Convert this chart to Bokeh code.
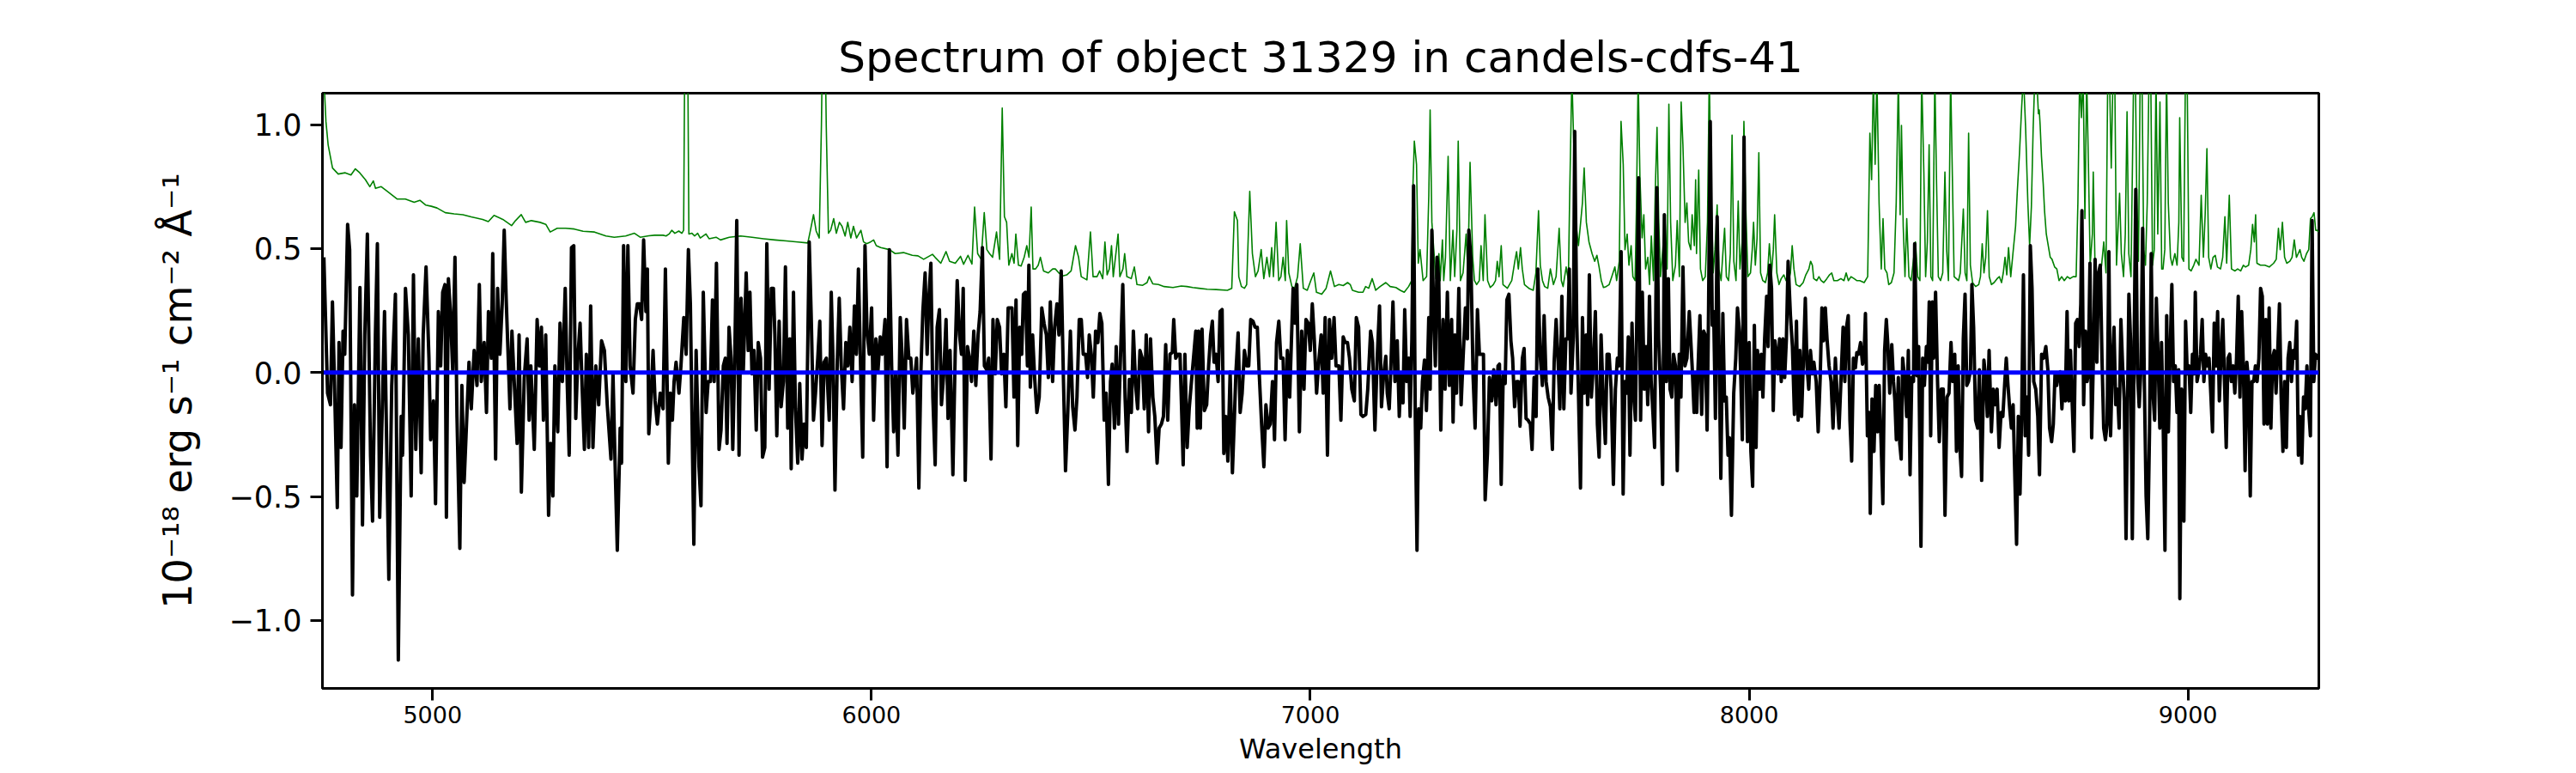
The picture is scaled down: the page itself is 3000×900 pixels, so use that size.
from bokeh.plotting import figure
from bokeh.models import Range1d, FixedTicker
from bokeh.embed import file_html
from bokeh.resources import INLINE

TITLE = "Spectrum of object 31329 in candels-cdfs-41"
X_LABEL = "Wavelength"
Y_LABEL = "10⁻¹⁸ erg s⁻¹ cm⁻² Å⁻¹"
X_TICKS = [5000, 6000, 7000, 8000, 9000]
X_TICK_LABELS = ["5000", "6000", "7000", "8000", "9000"]
Y_TICKS = [-1.0, -0.5, 0.0, 0.5, 1.0]
Y_TICK_LABELS = ["\u22121.0", "\u22120.5", "0.0", "0.5", "1.0"]
X_RANGE = (4749, 9298)
Y_RANGE = (-1.274, 1.127)

wl_1 = [4752.3, 4760.7, 4767.3, 4771.8, 4776.4, 4782.9, 4786.8, 4791.4, 4796.0, 4799.9, 4806.4, 4811.0, 4817.5, 4822.1, 4827.3, 4834.5, 4840.3, 4845.5, 4851.4, 4858.6, 4863.2, 4869.7, 4874.2, 4879.5, 4886.0, 4890.5, 4900.3, 4906.9, 4915.3, 4921.9, 4928.4, 4931.6, 4938.2, 4944.7, 4951.2, 4956.4, 4961.7, 4967.5, 4974.0, 4978.6, 4985.1, 4991.7, 4995.6, 5002.1, 5006.7, 5013.2, 5018.4, 5023.0, 5028.2, 5031.5, 5036.0, 5040.6, 5045.8, 5051.0, 5055.6, 5062.1, 5066.7, 5071.9, 5078.4, 5083.0, 5088.2, 5094.7, 5101.2, 5106.5, 5111.0, 5117.5, 5122.8, 5127.3, 5133.9, 5137.1, 5143.6, 5148.2, 5153.4, 5158.6, 5163.2, 5167.8, 5176.3, 5180.8, 5186.0, 5192.6, 5197.1, 5202.3, 5208.9, 5215.4, 5220.0, 5223.9, 5231.7, 5238.2, 5243.4, 5248.0, 5252.6, 5257.8, 5264.3, 5268.9, 5274.1, 5278.7, 5285.2, 5290.4, 5295.6, 5302.2, 5306.7, 5311.3, 5316.5, 5321.7, 5326.3, 5330.9, 5336.1, 5340.6, 5345.9, 5350.4, 5355.6, 5360.2, 5365.4, 5371.9, 5378.5, 5385.0, 5391.5, 5398.0, 5406.5, 5411.1, 5415.6, 5420.9, 5427.4, 5430.6, 5435.2, 5440.4, 5445.0, 5450.2, 5456.7, 5462.0, 5466.5, 5471.7, 5476.3, 5480.9, 5486.1, 5489.4, 5492.6, 5497.8, 5502.4, 5507.0, 5512.2, 5518.7, 5525.2, 5530.5]
flux_1 = [0.465, -0.083, -0.130, 0.285, -0.036, -0.545, 0.121, -0.302, 0.167, 0.074, 0.598, 0.496, -0.897, -0.130, -0.498, 0.343, -0.615, 0.152, 0.559, -0.333, -0.599, 0.152, 0.520, -0.584, -0.099, 0.246, -0.834, -0.052, 0.316, -1.160, -0.177, -0.333, 0.340, 0.152, -0.498, 0.394, -0.310, 0.136, -0.404, 0.152, 0.426, 0.058, -0.271, -0.114, -0.529, 0.246, 0.027, 0.324, 0.355, -0.584, 0.379, 0.246, 0.011, 0.465, -0.177, -0.709, -0.052, -0.443, -0.161, 0.042, -0.146, 0.089, -0.052, 0.355, -0.036, 0.121, -0.161, 0.246, 0.058, 0.480, -0.349, 0.340, 0.074, 0.277, 0.574, 0.293, -0.146, 0.167, -0.036, -0.286, 0.152, -0.482, -0.020, 0.136, -0.192, 0.027, -0.310, 0.214, 0.027, 0.183, -0.192, 0.152, -0.576, -0.286, -0.498, 0.027, -0.239, 0.199, -0.036, 0.340, -0.036, -0.333, 0.504, 0.512, -0.185, 0.058, 0.199, -0.052, -0.310, 0.074, -0.302, 0.269, -0.302, 0.027, -0.130, 0.128, 0.089, -0.130, -0.349, -0.005, -0.349, -0.717, -0.224, -0.365, 0.512, -0.036, 0.512, 0.027, -0.083, 0.214, 0.277, 0.277, 0.214, 0.535, 0.246, 0.418, -0.247, -0.099, 0.089, -0.114, -0.208, -0.083, -0.146, 0.418]

wl_2 = [5537.2, 5541.8, 5546.4, 5550.3, 5554.8, 5561.4, 5565.9, 5572.4, 5577.7, 5582.9, 5587.4, 5595.3, 5600.5, 5607.0, 5611.6, 5616.8, 5623.3, 5627.9, 5633.1, 5637.7, 5641.6, 5646.8, 5652.7, 5657.2, 5662.5, 5667.0, 5670.9, 5675.5, 5680.1, 5684.0, 5688.6, 5693.1, 5698.3, 5702.9, 5708.1, 5714.6, 5719.2, 5723.1, 5727.7, 5732.3, 5737.5, 5742.0, 5747.3, 5751.8, 5757.0, 5761.6, 5766.8, 5772.0, 5776.6, 5779.9, 5784.4, 5789.7, 5794.2, 5799.4, 5804.0, 5809.2, 5813.8, 5817.1, 5822.3, 5826.8, 5832.1, 5836.6, 5841.8, 5846.4, 5851.6, 5858.2, 5862.7, 5867.9, 5872.5, 5877.7, 5882.3, 5887.5, 5892.1, 5897.3, 5903.8, 5908.4, 5912.3, 5916.9, 5922.1, 5926.6, 5931.2, 5936.4, 5941.6, 5946.2, 5950.8, 5956.0, 5961.2, 5965.8, 5970.3, 5975.6, 5980.1, 5985.3, 5989.9, 5995.1, 6000.4, 6004.9, 6010.1, 6014.7, 6019.9, 6024.5, 6031.0, 6035.6, 6040.8, 6046.0, 6050.6, 6055.1, 6060.4, 6065.6, 6070.1, 6074.7, 6079.9, 6085.2, 6089.7, 6094.3, 6099.5, 6102.8, 6108.0, 6112.5, 6117.1, 6122.3, 6126.9, 6130.8, 6135.4, 6139.9, 6145.2, 6149.7, 6154.9, 6159.5, 6164.7, 6170.0, 6174.5, 6179.1, 6185.6, 6190.8, 6195.4, 6200.6, 6205.2, 6209.1, 6213.7, 6218.9, 6223.4, 6228.0, 6233.2, 6237.8, 6243.0, 6247.6, 6252.8, 6257.4, 6262.6, 6267.1, 6272.4, 6276.9, 6282.1, 6286.7, 6291.9, 6296.5, 6301.7, 6306.3, 6311.5]
flux_2 = [-0.365, -0.083, -0.192, -0.036, 0.042, -0.083, 0.027, 0.222, 0.074, 0.496, 0.277, -0.693, 0.089, -0.380, -0.537, 0.324, -0.161, -0.036, -0.036, 0.293, -0.036, 0.441, -0.310, -0.232, 0.027, 0.058, -0.286, 0.183, 0.058, -0.310, 0.058, 0.613, -0.333, 0.300, 0.011, 0.402, 0.089, 0.324, -0.005, 0.089, -0.232, 0.121, 0.058, -0.341, -0.302, 0.520, -0.067, 0.340, 0.340, 0.152, -0.255, 0.207, -0.138, -0.036, 0.426, -0.224, 0.136, -0.388, 0.324, -0.146, -0.365, -0.044, -0.349, -0.208, -0.302, 0.527, 0.230, -0.192, -0.083, 0.058, 0.207, -0.294, 0.042, 0.058, -0.192, 0.324, 0.058, -0.474, 0.042, 0.300, 0.027, -0.146, 0.121, 0.027, 0.183, -0.036, 0.269, 0.074, 0.418, -0.005, -0.341, 0.512, 0.167, 0.074, 0.261, -0.192, 0.136, 0.003, 0.144, 0.074, 0.214, -0.380, 0.496, 0.027, -0.239, -0.005, -0.333, 0.222, 0.058, -0.224, 0.214, 0.058, 0.058, -0.083, -0.005, 0.058, -0.466, -0.005, 0.246, 0.402, 0.074, 0.300, 0.441, -0.099, -0.372, 0.183, 0.254, -0.130, -0.005, 0.214, -0.185, 0.089, -0.412, 0.074, 0.371, 0.152, 0.074, 0.340, -0.435, 0.105, 0.058, -0.036, 0.167, -0.052, 0.152, 0.246, 0.504, 0.027, 0.011, 0.058, -0.349, 0.214, -0.005, 0.214, 0.183, -0.005, 0.074, -0.138, 0.261]

wl_3 = [6320.2, 6324.8, 6329.4, 6333.3, 6337.8, 6342.4, 6346.3, 6350.9, 6355.4, 6358.7, 6362.0, 6367.2, 6371.8, 6377.0, 6382.2, 6388.1, 6393.3, 6398.5, 6403.1, 6407.6, 6412.8, 6417.4, 6422.6, 6427.2, 6432.4, 6437.6, 6442.2, 6447.4, 6453.3, 6458.5, 6463.7, 6468.3, 6473.5, 6478.1, 6482.6, 6487.9, 6492.4, 6496.3, 6500.9, 6505.5, 6510.7, 6515.9, 6520.5, 6525.0, 6530.3, 6534.8, 6540.0, 6544.6, 6548.5, 6553.7, 6557.7, 6562.9, 6567.4, 6572.7, 6577.9, 6582.4, 6587.7, 6592.2, 6596.8, 6602.0, 6606.6, 6611.8, 6617.0, 6621.6, 6626.1, 6631.4, 6635.9, 6641.2, 6645.7, 6650.9, 6655.5, 6660.7, 6665.3, 6670.5, 6675.1, 6680.3, 6685.5, 6688.8, 6693.3, 6697.9, 6703.1, 6706.4, 6710.3, 6714.2, 6719.4, 6724.0, 6729.2, 6733.8, 6739.0, 6742.3, 6745.5, 6749.4, 6753.3, 6758.6, 6763.8, 6768.3, 6772.9, 6776.8, 6780.7, 6785.3, 6789.9, 6794.4, 6799.0, 6802.9, 6807.5, 6812.1, 6817.3, 6822.5, 6827.1, 6830.3, 6835.5, 6840.1, 6844.7, 6849.9, 6855.1, 6859.7, 6864.2, 6869.5, 6874.0, 6879.2, 6883.8, 6889.0, 6894.2, 6898.8, 6904.0, 6908.6, 6913.8, 6918.4, 6923.0, 6928.2, 6932.7, 6938.0, 6942.5, 6947.7, 6953.0, 6957.5, 6960.8, 6965.3, 6969.3, 6975.1, 6980.3, 6985.6, 6990.1, 6995.3, 6999.9, 7004.5, 7009.0, 7014.3, 7019.5, 7024.7, 7029.3, 7033.8, 7039.1, 7043.6, 7048.8, 7054.1, 7058.6, 7065.1, 7069.7, 7074.9, 7079.5, 7084.7, 7089.3, 7094.5]
flux_3 = [0.261, -0.099, 0.293, -0.294, 0.183, 0.074, 0.316, 0.324, 0.027, 0.433, -0.059, 0.152, -0.020, -0.161, -0.099, 0.261, 0.199, 0.152, -0.020, 0.285, -0.036, 0.183, 0.277, 0.152, 0.410, -0.036, -0.396, -0.161, 0.167, -0.138, -0.232, -0.099, 0.214, 0.214, 0.074, 0.074, -0.020, 0.152, 0.074, -0.099, 0.167, 0.121, 0.238, 0.199, -0.192, -0.083, -0.451, -0.036, 0.034, -0.224, 0.105, -0.208, 0.058, 0.355, -0.099, -0.318, -0.028, -0.161, 0.167, -0.052, -0.146, 0.089, 0.058, -0.146, 0.152, -0.239, 0.136, -0.099, -0.177, -0.365, -0.224, -0.208, -0.177, 0.113, -0.192, 0.074, 0.081, 0.214, 0.058, 0.074, 0.074, -0.130, -0.372, 0.074, -0.302, -0.146, -0.036, 0.058, 0.167, -0.224, 0.167, -0.224, 0.175, -0.153, -0.130, 0.027, 0.152, 0.207, 0.042, 0.074, -0.036, 0.246, 0.254, -0.326, -0.177, -0.357, 0.003, -0.404, -0.177, -0.005, 0.160, -0.161, -0.083, 0.089, 0.027, 0.027, 0.214, 0.207, 0.183, 0.183, -0.013, -0.208, -0.380, -0.130, -0.224, -0.208, -0.036, -0.271, 0.121, 0.207, 0.058, 0.058, -0.271, 0.089, -0.099, 0.160, 0.340, 0.199, 0.355, -0.239, 0.167, -0.067, 0.214, 0.199, 0.089, 0.277, 0.136, -0.083, 0.050, 0.152, -0.083, 0.222, -0.333, 0.214, 0.058, 0.222, 0.027, 0.027, -0.192, 0.144, 0.121, 0.121, 0.058, -0.067]

wl_4 = [7100.3, 7104.8, 7110.0, 7115.3, 7119.8, 7126.4, 7130.9, 7137.4, 7141.4, 7147.2, 7152.4, 7157.7, 7162.2, 7166.8, 7172.0, 7175.3, 7179.8, 7183.8, 7188.3, 7192.9, 7198.1, 7202.7, 7206.6, 7211.2, 7215.1, 7219.6, 7224.2, 7227.5, 7231.4, 7235.3, 7239.2, 7243.1, 7247.0, 7251.6, 7255.5, 7260.1, 7264.6, 7269.9, 7273.1, 7277.0, 7281.0, 7284.9, 7288.8, 7292.7, 7297.3, 7302.5, 7307.0, 7312.3, 7316.8, 7322.0, 7325.3, 7329.2, 7333.1, 7338.4, 7343.6, 7348.1, 7353.4, 7357.9, 7361.2, 7365.7, 7371.0, 7375.5, 7380.8, 7385.3, 7390.5, 7394.5, 7398.4, 7403.6, 7408.1, 7413.4, 7417.9, 7423.2, 7427.7, 7431.0, 7434.9, 7439.5, 7444.0, 7447.9, 7452.5, 7457.1, 7461.0, 7465.5, 7470.1, 7474.0, 7477.9, 7483.2, 7487.1, 7491.6, 7496.2, 7501.4, 7505.3, 7509.9, 7514.5, 7518.4, 7523.6, 7528.8, 7532.7, 7537.3, 7541.9, 7547.1, 7551.6, 7555.6, 7560.1, 7564.7, 7568.6, 7573.2, 7577.7, 7582.3, 7586.2, 7590.1, 7594.0, 7599.3, 7602.5, 7607.1, 7611.0, 7615.6, 7620.1, 7624.1, 7628.6, 7631.9, 7635.8, 7640.4, 7644.9, 7649.5, 7654.1, 7658.0, 7662.5, 7667.8, 7672.3, 7676.2, 7680.8, 7685.4, 7690.6, 7695.2, 7699.7, 7703.6, 7708.2, 7712.8, 7716.7, 7720.6, 7724.5, 7728.4, 7733.0, 7736.9, 7740.8, 7744.7, 7748.0, 7752.6, 7756.5, 7761.0, 7765.0, 7768.9, 7772.8, 7776.7, 7780.6, 7784.5, 7789.7, 7793.7, 7798.2, 7802.8, 7806.7, 7811.3, 7815.8, 7819.7, 7823.7, 7827.6, 7832.1, 7836.1, 7840.6, 7844.5, 7849.1, 7853.7, 7858.2, 7863.5, 7870.0, 7874.5, 7878.5]
flux_4 = [-0.114, 0.222, 0.183, -0.169, -0.177, -0.169, -0.067, 0.167, 0.121, -0.232, 0.058, 0.269, -0.138, -0.013, 0.066, -0.083, -0.146, 0.034, 0.285, -0.036, 0.128, -0.177, -0.005, -0.122, 0.254, -0.036, 0.058, -0.177, 0.136, 0.754, -0.185, -0.717, -0.146, -0.224, -0.036, 0.050, -0.153, 0.222, -0.067, 0.574, 0.246, 0.027, 0.465, 0.371, -0.232, 0.214, -0.067, 0.324, -0.052, 0.214, -0.200, 0.152, -0.083, 0.340, -0.130, 0.058, 0.261, 0.136, 0.574, 0.465, -0.020, -0.224, 0.254, 0.074, 0.074, 0.074, -0.513, -0.326, -0.020, -0.114, 0.011, -0.130, 0.027, 0.034, -0.451, -0.013, -0.044, 0.293, 0.316, 0.128, 0.058, -0.138, -0.036, -0.036, -0.216, 0.058, 0.097, -0.185, -0.192, -0.208, -0.310, -0.020, -0.177, 0.418, 0.074, -0.052, 0.230, -0.036, -0.099, -0.138, -0.310, 0.042, 0.214, 0.042, -0.146, 0.308, -0.146, 0.136, 0.136, 0.418, -0.083, 0.144, 0.973, 0.199, -0.083, -0.466, 0.222, -0.083, 0.152, -0.130, 0.394, -0.099, 0.027, 0.246, -0.208, -0.341, 0.152, -0.130, -0.286, 0.074, 0.074, -0.067, -0.451, -0.067, 0.058, 0.027, 0.488, -0.490, -0.036, -0.083, 0.144, -0.333, 0.199, -0.083, -0.192, 0.324, 0.786, -0.192, 0.324, -0.067, 0.105, -0.130, 0.308, -0.036, -0.161, -0.302, 0.746, 0.136, -0.067, -0.451, 0.637, -0.036, 0.379, -0.067, -0.099, 0.074, 0.027, -0.396, 0.074, -0.099, 0.426, 0.027, 0.058, 0.246, 0.027, -0.161, -0.005]

wl_5 = [7880.5, 7883.3, 7887.8, 7891.7, 7896.3, 7899.6, 7904.1, 7907.4, 7911.3, 7915.9, 7919.1, 7923.1, 7927.0, 7930.9, 7935.4, 7940.0, 7943.9, 7947.8, 7951.8, 7955.0, 7959.6, 7964.8, 7969.4, 7973.3, 7977.8, 7981.1, 7984.4, 7988.3, 7992.2, 7996.1, 8000.0, 8003.9, 8007.9, 8011.8, 8015.7, 8018.9, 8023.5, 8027.4, 8031.3, 8035.2, 8039.8, 8043.1, 8047.0, 8050.9, 8054.8, 8058.7, 8062.6, 8065.9, 8069.2, 8073.1, 8077.0, 8080.9, 8084.8, 8088.7, 8094.0, 8098.5, 8103.1, 8107.7, 8111.6, 8115.5, 8119.4, 8124.0, 8127.9, 8131.8, 8135.7, 8139.6, 8144.2, 8147.4, 8152.7, 8157.2, 8161.8, 8165.7, 8169.6, 8173.5, 8177.4, 8182.0, 8186.6, 8191.1, 8196.4, 8200.9, 8204.8, 8209.4, 8214.0, 8217.9, 8221.8, 8225.7, 8229.6, 8233.5, 8237.5, 8242.0, 8245.3, 8249.2, 8253.8, 8258.3, 8261.6, 8264.9, 8269.4, 8273.3, 8275.9, 8279.9, 8284.4, 8288.3, 8292.3, 8296.2, 8300.7, 8304.6, 8308.6, 8312.5, 8315.7, 8320.3, 8324.9, 8328.8, 8332.0, 8335.3, 8339.9, 8343.1, 8346.4, 8349.7, 8354.9, 8358.8, 8362.7, 8366.6, 8370.5, 8374.4, 8377.1, 8382.3, 8386.2, 8391.4, 8395.3, 8399.2, 8403.8, 8407.1, 8410.3, 8413.6, 8417.5, 8420.1, 8424.7, 8429.2, 8433.2, 8437.7, 8442.3, 8446.2, 8450.8, 8455.3, 8459.9, 8463.8, 8468.4, 8472.3, 8476.2, 8480.1, 8484.0, 8487.9, 8491.9, 8495.8, 8499.7, 8504.3, 8507.5, 8511.4, 8516.0, 8520.6, 8524.5, 8529.7, 8534.9, 8538.8, 8542.7, 8546.7, 8551.9, 8556.4, 8560.3, 8564.9, 8569.5, 8574.0, 8578.0, 8582.5, 8585.8, 8589.7, 8593.6, 8597.5, 8601.4, 8605.4, 8609.3, 8613.2, 8617.1, 8621.0, 8624.9, 8628.9, 8633.4, 8636.7, 8640.6, 8644.5, 8648.4, 8653.0, 8657.6, 8661.5]
flux_5 = [-0.161, 0.011, 0.230, -0.169, 0.167, 0.152, -0.232, 0.246, 1.013, 0.191, 0.246, -0.185, 0.629, 0.152, -0.427, 0.238, -0.114, -0.099, -0.333, -0.263, -0.576, -0.083, 0.058, 0.261, 0.167, -0.036, -0.271, 0.950, 0.105, -0.279, 0.121, -0.318, -0.459, 0.191, -0.302, 0.089, -0.067, 0.074, -0.099, 0.136, 0.308, 0.105, 0.433, 0.340, -0.153, 0.128, 0.074, -0.005, 0.136, -0.036, 0.136, -0.020, 0.136, 0.449, 0.230, 0.105, -0.169, 0.207, -0.192, 0.089, -0.177, 0.074, 0.300, 0.027, -0.067, 0.089, -0.005, 0.042, -0.036, -0.239, -0.020, 0.261, 0.128, 0.261, 0.136, 0.027, -0.036, -0.224, 0.058, -0.114, -0.224, -0.020, 0.183, -0.036, 0.183, 0.230, -0.192, -0.357, 0.058, 0.019, 0.081, 0.074, 0.121, 0.034, 0.058, 0.238, -0.255, -0.161, -0.568, -0.106, -0.318, -0.052, -0.239, -0.052, -0.286, -0.529, 0.089, 0.214, 0.121, -0.083, 0.113, -0.036, -0.114, -0.271, -0.020, -0.286, -0.349, 0.058, -0.036, -0.177, 0.089, -0.412, -0.020, -0.036, 0.520, -0.013, 0.105, -0.701, 0.058, -0.052, 0.105, 0.042, 0.285, -0.255, 0.285, 0.058, 0.324, -0.036, -0.279, -0.067, -0.067, -0.576, -0.099, -0.083, 0.121, -0.036, 0.074, -0.318, 0.027, -0.302, -0.419, 0.136, 0.316, -0.052, -0.036, 0.011, 0.355, 0.183, -0.192, -0.224, 0.011, -0.435, 0.050, -0.020, -0.177, 0.089, -0.239, -0.067, -0.130, -0.067, -0.302, -0.161, -0.177, -0.036, 0.058, -0.052, -0.146, -0.224, -0.130, -0.427, -0.693, -0.177, -0.490, -0.161, 0.394, -0.255, -0.099, -0.333, 0.512, 0.340, -0.036, -0.067, -0.177, -0.412]

wl_6 = [8666.3, 8670.8, 8676.0, 8680.6, 8684.5, 8689.1, 8693.0, 8696.9, 8700.8, 8704.7, 8708.7, 8712.6, 8716.5, 8720.4, 8724.3, 8728.2, 8732.1, 8736.1, 8740.0, 8743.9, 8747.8, 8751.7, 8755.6, 8758.2, 8762.1, 8766.1, 8770.0, 8772.6, 8776.5, 8780.4, 8784.3, 8788.2, 8792.2, 8796.1, 8800.0, 8803.9, 8807.8, 8811.7, 8815.6, 8819.6, 8823.5, 8827.4, 8831.3, 8835.2, 8839.1, 8843.0, 8847.0, 8850.9, 8854.8, 8858.7, 8862.6, 8865.2, 8869.1, 8873.0, 8877.0, 8880.9, 8884.8, 8888.7, 8892.6, 8896.5, 8900.4, 8904.4, 8908.3, 8912.2, 8916.1, 8920.0, 8923.9, 8927.8, 8931.8, 8935.7, 8939.6, 8943.5, 8947.4, 8951.3, 8955.2, 8959.1, 8963.1, 8967.0, 8970.9, 8974.8, 8978.7, 8981.3, 8985.2, 8987.9, 8990.5, 8994.4, 8998.3, 9002.2, 9006.1, 9010.0, 9013.9, 9016.5, 9020.5, 9024.4, 9028.3, 9032.2, 9036.1, 9040.0, 9043.9, 9047.9, 9051.8, 9055.7, 9059.6, 9063.5, 9067.4, 9071.3, 9075.3, 9079.2, 9083.1, 9087.0, 9090.9, 9094.8, 9098.7, 9102.6, 9106.6, 9110.5, 9114.4, 9118.3, 9122.2, 9126.1, 9130.0, 9134.0, 9137.9, 9141.8, 9145.7, 9149.6, 9153.5, 9157.4, 9161.4, 9165.3, 9169.2, 9173.1, 9177.0, 9180.9, 9184.8, 9188.8, 9192.7, 9196.6, 9200.5, 9204.4, 9208.3, 9212.2, 9216.2, 9220.1, 9224.0, 9227.9, 9231.8, 9235.7, 9239.6, 9243.5, 9247.5, 9251.4, 9255.3, 9259.2, 9263.1, 9267.0, 9270.9, 9274.9, 9278.8, 9282.7, 9286.6, 9290.5, 9294.4, 9297.0]
flux_6 = [0.074, 0.058, 0.105, 0.011, -0.224, -0.279, -0.208, -0.005, -0.052, -0.005, 0.003, -0.146, -0.005, -0.114, 0.246, -0.114, 0.089, -0.130, -0.318, 0.199, 0.214, 0.105, 0.277, 0.653, -0.130, 0.167, -0.036, -0.005, 0.441, -0.263, 0.058, 0.457, 0.042, 0.402, 0.433, 0.058, -0.224, -0.271, -0.208, 0.488, -0.255, 0.027, 0.183, -0.130, -0.067, -0.224, 0.214, 0.027, -0.114, -0.670, -0.052, 0.316, 0.128, -0.670, 0.089, 0.739, -0.005, -0.138, 0.019, 0.582, -0.036, -0.498, -0.670, -0.239, 0.480, -0.083, -0.192, 0.300, 0.058, -0.224, 0.121, -0.224, -0.717, 0.230, -0.239, 0.074, 0.355, -0.036, 0.027, -0.161, 0.011, -0.912, -0.067, -0.412, -0.599, 0.207, -0.005, 0.027, -0.161, 0.074, -0.005, 0.324, -0.036, 0.003, 0.074, 0.214, -0.036, 0.074, 0.027, 0.058, -0.083, -0.239, 0.199, 0.027, 0.246, -0.114, 0.074, 0.214, -0.036, -0.302, 0.058, 0.074, -0.036, 0.027, -0.083, 0.058, 0.308, -0.099, 0.246, 0.027, -0.396, 0.042, -0.036, -0.498, -0.036, -0.036, 0.027, -0.036, 0.058, 0.340, 0.308, -0.208, 0.214, -0.208, 0.261, -0.224, 0.058, 0.089, -0.083, 0.089, 0.277, -0.099, -0.318, -0.036, -0.302, 0.058, 0.121, -0.036, 0.089, 0.058, 0.207, -0.333, -0.177, -0.365, -0.099, -0.146, 0.027, -0.146, -0.255, 0.613, -0.036, 0.074, 0.058, 0.074]

# ---- noise spectrum (green); sky-line peaks above the axis top are clipped ----
err_wl_1 = [4749, 4750, 4754, 4757, 4762, 4772, 4785, 4801, 4814, 4824, 4834, 4847, 4857, 4865, 4870, 4883, 4899, 4919, 4938, 4958, 4971, 4984, 4997, 5010, 5029, 5049, 5069, 5088, 5114, 5127, 5140, 5160, 5180, 5189, 5202, 5212, 5225, 5245, 5258, 5268, 5284, 5303, 5323, 5343, 5369, 5395, 5414, 5440, 5460, 5473, 5493, 5506, 5525]
err_1 = [1.4, 1.4, 1.125, 1.013, 0.919, 0.825, 0.801, 0.806, 0.797, 0.822, 0.806, 0.778, 0.750, 0.773, 0.743, 0.750, 0.728, 0.700, 0.700, 0.687, 0.695, 0.676, 0.671, 0.664, 0.645, 0.640, 0.637, 0.628, 0.618, 0.609, 0.634, 0.618, 0.593, 0.613, 0.637, 0.606, 0.613, 0.606, 0.598, 0.567, 0.582, 0.582, 0.579, 0.570, 0.567, 0.551, 0.546, 0.551, 0.562, 0.546, 0.552, 0.554, 0.554]

err_wl_2 = [5532, 5539, 5545, 5552, 5561, 5568, 5572, 5575, 5581, 5584, 5591, 5597, 5604, 5610, 5623, 5630, 5646, 5656, 5676, 5702, 5728, 5754, 5780, 5806, 5832, 5855, 5861, 5868, 5874, 5881, 5886, 5889, 5894, 5897, 5902, 5907, 5914, 5920, 5927, 5933, 5940, 5946, 5953, 5959, 5966, 5976, 5982, 5989, 5998, 6005, 6011, 6021, 6041, 6054, 6073, 6093, 6106, 6119, 6139, 6145, 6158, 6170, 6178, 6191, 6203, 6210, 6220, 6229, 6235, 6242, 6250, 6257, 6263, 6269, 6276, 6285, 6292, 6298, 6303, 6308, 6313]
err_2 = [0.551, 0.559, 0.574, 0.562, 0.571, 0.562, 0.574, 1.4, 1.4, 0.559, 0.562, 0.551, 0.562, 0.543, 0.559, 0.540, 0.546, 0.535, 0.546, 0.551, 0.546, 0.540, 0.535, 0.531, 0.527, 0.523, 0.574, 0.637, 0.571, 0.543, 0.997, 1.4, 1.4, 0.997, 0.562, 0.574, 0.621, 0.562, 0.606, 0.590, 0.551, 0.606, 0.543, 0.590, 0.543, 0.574, 0.527, 0.520, 0.527, 0.535, 0.512, 0.504, 0.496, 0.480, 0.484, 0.473, 0.471, 0.457, 0.477, 0.465, 0.441, 0.488, 0.449, 0.441, 0.469, 0.437, 0.473, 0.438, 0.668, 0.480, 0.457, 0.645, 0.496, 0.480, 0.465, 0.567, 0.457, 1.067, 0.629, 0.606, 0.433]

err_wl_3 = [6320, 6325, 6329, 6335, 6341, 6348, 6354, 6359, 6364, 6368, 6374, 6380, 6385, 6392, 6403, 6413, 6419, 6427, 6436, 6445, 6455, 6465, 6472, 6478, 6491, 6499, 6505, 6514, 6520, 6527, 6532, 6537, 6542, 6547, 6551, 6558, 6562, 6566, 6573, 6577, 6582, 6592, 6599, 6605, 6618, 6628, 6633, 6641, 6654, 6667, 6687, 6706, 6719, 6732, 6746, 6765, 6785, 6811, 6821, 6827, 6834, 6837, 6843, 6850, 6855, 6862, 6868, 6875, 6881, 6888, 6894, 6901, 6907, 6912, 6916, 6922, 6928, 6933, 6938, 6943, 6946, 6951, 6958, 6964, 6971, 6977, 6984, 6993, 7001, 7008, 7014, 7026, 7036, 7046, 7055, 7065, 7075, 7085, 7091, 7096]
err_3 = [0.480, 0.441, 0.559, 0.433, 0.430, 0.465, 0.512, 0.465, 0.668, 0.418, 0.418, 0.433, 0.465, 0.410, 0.402, 0.418, 0.418, 0.402, 0.390, 0.394, 0.410, 0.512, 0.465, 0.387, 0.374, 0.567, 0.387, 0.387, 0.410, 0.379, 0.527, 0.394, 0.418, 0.512, 0.387, 0.496, 0.559, 0.387, 0.418, 0.480, 0.387, 0.379, 0.426, 0.355, 0.352, 0.363, 0.387, 0.358, 0.355, 0.347, 0.343, 0.349, 0.347, 0.343, 0.340, 0.336, 0.335, 0.332, 0.340, 0.649, 0.613, 0.387, 0.347, 0.340, 0.355, 0.731, 0.480, 0.387, 0.410, 0.496, 0.379, 0.465, 0.387, 0.504, 0.387, 0.606, 0.371, 0.387, 0.465, 0.371, 0.613, 0.402, 0.347, 0.340, 0.387, 0.520, 0.340, 0.332, 0.371, 0.402, 0.324, 0.316, 0.340, 0.410, 0.347, 0.355, 0.351, 0.363, 0.355, 0.332]

err_wl_4 = [7110, 7120, 7126, 7133, 7141, 7149, 7159, 7172, 7182, 7195, 7205, 7214, 7224, 7231, 7234, 7237, 7242, 7246, 7250, 7257, 7265, 7270, 7273, 7277, 7282, 7286, 7293, 7296, 7301, 7304, 7308, 7314, 7319, 7325, 7329, 7334, 7337, 7342, 7348, 7355, 7359, 7364, 7370, 7374, 7379, 7385, 7389, 7394, 7398, 7404, 7410, 7417, 7422, 7426, 7430, 7435, 7439, 7449, 7459, 7466, 7470, 7474, 7479, 7483, 7488, 7498, 7508, 7514, 7520, 7524, 7529, 7534, 7541, 7547, 7554, 7560, 7567, 7572, 7576, 7583, 7588, 7591, 7596, 7601, 7605, 7611, 7616, 7620, 7624, 7629, 7635, 7642, 7648, 7653, 7658, 7663, 7668, 7674, 7681, 7687, 7694, 7698, 7704, 7708, 7713, 7717, 7722, 7726, 7731, 7735, 7740, 7743, 7747, 7751, 7756, 7760, 7764, 7769, 7773, 7777, 7782, 7786, 7790, 7794, 7798, 7803, 7808, 7813, 7817, 7821, 7826, 7832, 7836, 7841, 7845, 7849, 7854, 7858, 7862, 7867, 7870, 7875, 7878]
err_4 = [0.324, 0.324, 0.347, 0.340, 0.379, 0.332, 0.347, 0.363, 0.347, 0.343, 0.332, 0.324, 0.347, 0.371, 0.762, 0.934, 0.840, 0.441, 0.496, 0.371, 0.387, 0.715, 1.059, 0.606, 0.480, 0.379, 0.480, 0.371, 0.535, 0.371, 0.465, 0.872, 0.371, 0.574, 0.387, 0.574, 0.934, 0.371, 0.402, 0.559, 0.402, 0.848, 0.465, 0.371, 0.355, 0.371, 0.512, 0.371, 0.637, 0.371, 0.343, 0.355, 0.371, 0.449, 0.387, 0.512, 0.355, 0.340, 0.371, 0.449, 0.488, 0.418, 0.504, 0.418, 0.355, 0.340, 0.332, 0.402, 0.653, 0.433, 0.371, 0.347, 0.340, 0.418, 0.355, 0.387, 0.582, 0.371, 0.347, 0.426, 0.371, 0.715, 1.2, 0.872, 0.606, 0.512, 0.606, 0.684, 0.825, 0.606, 0.527, 0.480, 0.449, 0.473, 0.426, 0.371, 0.343, 0.347, 0.355, 0.387, 0.426, 0.371, 0.449, 1.013, 0.840, 0.496, 0.559, 0.433, 0.512, 0.387, 0.371, 0.653, 1.2, 0.793, 0.543, 0.637, 0.418, 0.465, 0.355, 0.551, 0.371, 0.731, 0.989, 0.606, 0.387, 0.496, 0.621, 0.418, 1.083, 0.606, 0.371, 0.433, 0.613, 0.387, 1.091, 0.919, 0.606, 0.684, 0.527, 0.496, 0.637, 0.512, 0.778]

err_wl_5 = [7880, 7885, 7889, 7894, 7900, 7905, 7909, 7913, 7918, 7922, 7927, 7931, 7936, 7940, 7944, 7948, 7953, 7957, 7961, 7965, 7970, 7975, 7979, 7984, 7988, 7992, 7997, 8003, 8007, 8010, 8014, 8018, 8022, 8026, 8031, 8037, 8042, 8046, 8051, 8055, 8058, 8063, 8068, 8073, 8079, 8084, 8089, 8094, 8098, 8102, 8107, 8115, 8123, 8129, 8136, 8140, 8144, 8147, 8154, 8159, 8164, 8170, 8177, 8183, 8188, 8193, 8201, 8209, 8216, 8221, 8226, 8232, 8239, 8245, 8252, 8262, 8270, 8275, 8279, 8283, 8287, 8291, 8296, 8301, 8305, 8309, 8314, 8318, 8324, 8330, 8335, 8340, 8344, 8347, 8351, 8355, 8359, 8364, 8369, 8374, 8379, 8384, 8389, 8393, 8398, 8402, 8406, 8410, 8414, 8418, 8423, 8427, 8431, 8436, 8441, 8446, 8450, 8454, 8459, 8463, 8467, 8472, 8477, 8481, 8488, 8492, 8496, 8500, 8504, 8509, 8516, 8523, 8527, 8531, 8535, 8539, 8543, 8547, 8552, 8558, 8565, 8570, 8575, 8579, 8583, 8587, 8591, 8596, 8601, 8607, 8611, 8616, 8621, 8625, 8630, 8635, 8639, 8643, 8647, 8651, 8655, 8659, 8661]
err_5 = [0.480, 0.817, 0.418, 0.371, 0.387, 0.606, 1.2, 0.762, 0.402, 0.496, 0.676, 0.418, 0.371, 0.480, 0.582, 0.387, 0.371, 0.480, 0.958, 0.449, 0.371, 0.692, 0.418, 0.527, 1.013, 0.684, 0.387, 0.402, 0.496, 0.606, 0.433, 0.543, 0.887, 0.402, 0.371, 0.363, 0.402, 0.520, 0.402, 0.496, 0.637, 0.402, 0.355, 0.379, 0.394, 0.371, 0.363, 0.402, 0.512, 0.418, 0.355, 0.347, 0.363, 0.394, 0.418, 0.449, 0.433, 0.379, 0.371, 0.387, 0.371, 0.363, 0.379, 0.394, 0.402, 0.371, 0.371, 0.379, 0.371, 0.402, 0.371, 0.387, 0.379, 0.371, 0.371, 0.363, 0.387, 0.966, 0.778, 1.2, 0.840, 1.2, 0.684, 0.418, 0.621, 0.418, 0.402, 0.355, 0.363, 0.402, 0.684, 1.2, 0.637, 0.997, 0.590, 0.387, 0.621, 0.387, 0.371, 0.449, 0.527, 0.387, 0.371, 1.2, 0.809, 0.387, 0.527, 0.919, 0.387, 0.371, 1.2, 0.762, 0.387, 0.371, 0.402, 0.809, 0.496, 0.371, 1.2, 0.793, 0.387, 0.379, 0.371, 0.402, 0.660, 0.402, 0.371, 0.966, 0.433, 0.363, 0.347, 0.355, 0.387, 0.520, 0.402, 0.465, 0.653, 0.387, 0.355, 0.363, 0.379, 0.387, 0.363, 0.402, 0.465, 0.394, 0.504, 0.387, 0.480, 0.590, 0.731, 0.887, 1.075, 1.2, 0.981, 0.684, 0.512, 0.668, 0.981, 1.2, 1.2, 1.044, 1.059]

err_wl_6 = [8663, 8666, 8670, 8673, 8677, 8683, 8686, 8690, 8696, 8701, 8706, 8712, 8718, 8725, 8731, 8738, 8745, 8749, 8753, 8757, 8761, 8765, 8769, 8773, 8777, 8782, 8784, 8788, 8793, 8799, 8803, 8808, 8813, 8817, 8821, 8825, 8829, 8833, 8837, 8840, 8844, 8848, 8853, 8857, 8861, 8865, 8870, 8876, 8880, 8883, 8887, 8891, 8895, 8899, 8903, 8907, 8911, 8915, 8919, 8923, 8927, 8931, 8936, 8940, 8943, 8947, 8951, 8955, 8960, 8964, 8970, 8975, 8979, 8981, 8986, 8990, 8994, 8998, 9002, 9007, 9013, 9018, 9025, 9030, 9035, 9039, 9043, 9047, 9052, 9057, 9062, 9067, 9074, 9079, 9084, 9088, 9094, 9099, 9107, 9113, 9120, 9126, 9131, 9138, 9143, 9147, 9151, 9154, 9157, 9165, 9175, 9185, 9195, 9201, 9206, 9210, 9215, 9220, 9225, 9232, 9237, 9242, 9247, 9251, 9255, 9259, 9264, 9270, 9275, 9279, 9283, 9287, 9291, 9294, 9297]
err_6 = [0.997, 0.872, 0.762, 0.653, 0.559, 0.496, 0.465, 0.457, 0.426, 0.418, 0.371, 0.387, 0.371, 0.387, 0.379, 0.387, 0.387, 0.684, 1.2, 1.028, 1.2, 0.621, 1.2, 0.840, 0.433, 0.559, 0.809, 0.433, 0.387, 0.387, 0.433, 0.527, 0.402, 1.2, 1.2, 0.825, 1.2, 1.2, 0.433, 0.559, 0.723, 0.480, 0.387, 0.559, 1.052, 0.480, 0.387, 1.2, 1.2, 0.731, 0.449, 1.2, 1.2, 0.496, 0.433, 0.684, 1.2, 1.2, 0.433, 0.496, 1.2, 0.559, 1.091, 0.418, 0.418, 0.496, 1.2, 0.684, 0.465, 0.433, 0.480, 0.433, 0.606, 1.028, 0.465, 0.449, 1.2, 1.2, 0.418, 0.410, 0.433, 0.457, 0.433, 0.715, 0.465, 0.637, 0.903, 0.465, 0.418, 0.465, 0.473, 0.426, 0.418, 0.465, 0.629, 0.441, 0.715, 0.418, 0.410, 0.418, 0.410, 0.433, 0.426, 0.433, 0.496, 0.598, 0.527, 0.637, 0.441, 0.433, 0.433, 0.426, 0.441, 0.457, 0.582, 0.496, 0.606, 0.465, 0.441, 0.449, 0.465, 0.535, 0.465, 0.480, 0.496, 0.465, 0.449, 0.480, 0.496, 0.621, 0.629, 0.645, 0.574, 0.574, 0.567]

# ---- model (blue), flat at zero over the whole range ----
model_wl = [4749.0, 9298.0]
model_flux = [0.0, 0.0]


def join(pairs):
    xs, ys = [], []
    for a, b in pairs:
        n = min(len(a), len(b))
        xs += a[:n]
        ys += b[:n]
    return xs, ys


flux_wl, flux = join([(wl_1, flux_1), (wl_2, flux_2), (wl_3, flux_3),
                      (wl_4, flux_4), (wl_5, flux_5), (wl_6, flux_6)])
err_wl, err = join([(err_wl_1, err_1), (err_wl_2, err_2), (err_wl_3, err_3),
                    (err_wl_4, err_4), (err_wl_5, err_5), (err_wl_6, err_6)])

FONT = "DejaVu Sans"

p = figure(width=2998, height=898,
           x_range=Range1d(*X_RANGE), y_range=Range1d(*Y_RANGE),
           output_backend="svg", toolbar_location=None,
           min_border_left=375, min_border_right=298,
           min_border_top=108, min_border_bottom=97)

p.background_fill_color = "white"
p.border_fill_color = "white"
p.outline_line_color = "black"
p.outline_line_width = 3
p.xgrid.visible = False
p.ygrid.visible = False

p.title.text = TITLE
p.title.text_font = FONT
p.title.text_font_size = "50px"
p.title.text_font_style = "normal"
p.title.text_color = "black"
p.title.align = "center"
p.title.standoff = 26

for ax in (p.xaxis[0], p.yaxis[0]):
    ax.axis_line_width = 3
    ax.axis_line_color = "black"
    ax.major_tick_line_width = 3
    ax.major_tick_line_color = "black"
    ax.major_tick_out = 14
    ax.major_tick_in = 0
    ax.minor_tick_line_color = None
    ax.major_label_text_font = FONT
    ax.major_label_text_color = "black"
    ax.axis_label_text_font = FONT
    ax.axis_label_text_font_style = "normal"
    ax.axis_label_text_color = "black"

p.xaxis.ticker = FixedTicker(ticks=X_TICKS)
p.xaxis.major_label_overrides = {t: s for t, s in zip(X_TICKS, X_TICK_LABELS)}
p.xaxis.major_label_text_font_size = "27px"
p.xaxis.major_label_standoff = 6
p.xaxis.axis_label = X_LABEL
p.xaxis.axis_label_text_font_size = "32px"
p.xaxis.axis_label_standoff = 8

p.yaxis.ticker = FixedTicker(ticks=Y_TICKS)
p.yaxis.major_label_overrides = {t: s for t, s in zip(Y_TICKS, Y_TICK_LABELS)}
p.yaxis.major_label_text_font_size = "35px"
p.yaxis.major_label_standoff = 10
p.yaxis.axis_label = Y_LABEL
p.yaxis.axis_label_text_font_size = "46px"
p.yaxis.axis_label_standoff = 30

p.line(err_wl, err, line_color="#008000", line_width=1.6, line_join="round")
p.line(flux_wl, flux, line_color="black", line_width=4, line_join="round")
p.line(model_wl, model_flux, line_color="#0000ff", line_width=5)

open("out.html", "w").write(file_html(p, INLINE))
